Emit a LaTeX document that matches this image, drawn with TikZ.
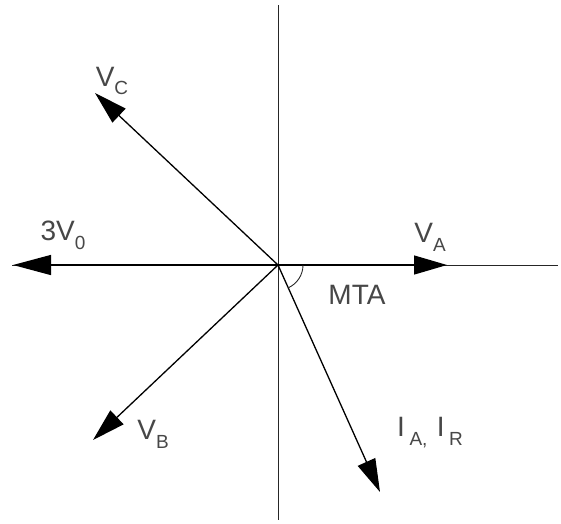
\documentclass[tikz,border=0pt]{standalone}
\usepackage{fontspec}
\setmainfont{Liberation Sans}
\usetikzlibrary{arrows.meta}
\newcommand\lowsub[1]{\raisebox{-0.6ex}{\fontsize{19}{19}\selectfont #1}}
\begin{document}
\begin{tikzpicture}[x=1pt,y=-1pt,
  axisline/.style={line width=0.9pt, black!85},
  phasor/.style={line width=1.3pt, black, -{Triangle[length=33pt,width=19pt]}},
  lbl/.style={font=\fontsize{28}{28}\selectfont, text=black!72, inner sep=0pt}]
\useasboundingbox (0,0) rectangle (561,523);
\coordinate (O) at (278,265);
\coordinate (xl) at (12,265);
\coordinate (xr) at (558,265);
\coordinate (yt) at (278,5);
\coordinate (yb) at (278,520);
\coordinate (tA) at (447,265);
\coordinate (tZ) at (13,265);
\coordinate (tC) at (95,93);
\coordinate (tB) at (93,440);
\coordinate (tI) at (380,492);
\draw[axisline] (xl) -- (xr);
\draw[axisline] (yt) -- (yb);
\draw[phasor] (O) -- (tA);
\draw[phasor, -{Triangle[length=38pt,width=20pt]}] (O) -- (tZ);
\draw[phasor] (O) -- (tC);
\draw[phasor] (O) -- (tB);
\draw[phasor] (O) -- (tI);
\draw[axisline] (O) ++(25,0) arc[start angle=0, end angle=65.8, radius=25];
\node[lbl] (lA) at (430,237) {V\lowsub{A}};
\node[lbl] (lZ) at (63,235) {3V\lowsub{0}};
\node[lbl] (lC) at (112,81) {V\lowsub{C}};
\node[lbl] (lB) at (153,434) {V\lowsub{B}};
\node[lbl] (lM) at (357,295) {MTA};
\node[lbl] (lI) at (430,433) {I\,\lowsub{A,}\,\,I\,\lowsub{R}};
\end{tikzpicture}
\end{document}
